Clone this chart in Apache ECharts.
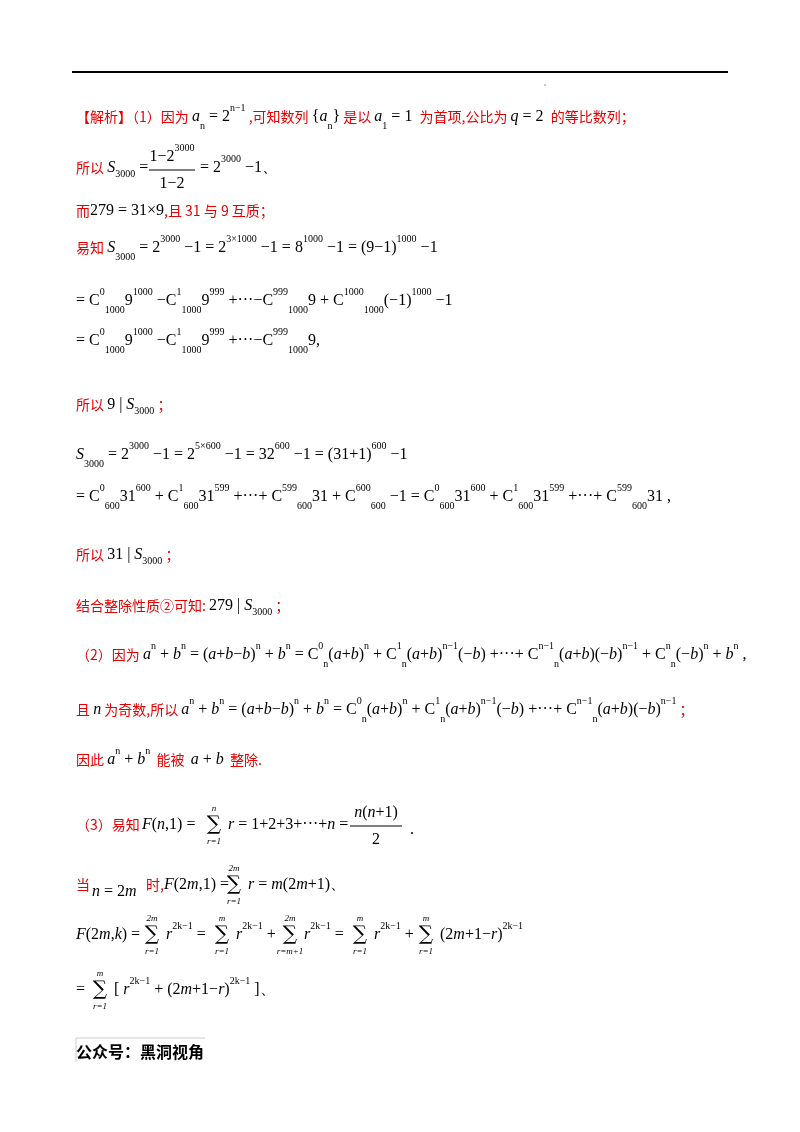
<!DOCTYPE html>
<html><head><meta charset="utf-8">
<script src="https://cdn.jsdelivr.net/npm/echarts@6/dist/echarts.min.js"></script>
<style>html,body{margin:0;padding:0;background:#fff}#c{width:800px;height:1132px}</style>
</head><body><div id="c"></div>
<script>
// Text content (rich markup): r=red CJK, k=black CJK, m=italic math, p=superscript, b=subscript
const lineTexts = [
 "{r|【解析】（1）因为 }{m|a}{b|n}{n| = 2}{p|n−1}{r| ,可知数列 }{n|{}{m|a}{b|n}{n|}}{r| 是以 }{m|a}{b|1}{n| = 1 }{r| 为首项,公比为 }{m|q}{n| = 2 }{r| 的等比数列；}",
 "{r|所以 }{m|S}{b|3000}{n| =}",
 "{n|= 2}{p|3000}{n| −1、}",
 "{r|而}{n|279 = 31×9}{r|,且 31 与 9 互质；}",
 "{r|易知 }{m|S}{b|3000}{n| = 2}{p|3000}{n| −1 = 2}{p|3×1000}{n| −1 = 8}{p|1000}{n| −1 = (9−1)}{p|1000}{n| −1}",
 "{n|= C}{p|0}{b|1000}{n|9}{p|1000}{n| −C}{p|1}{b|1000}{n|9}{p|999}{n| +···−C}{p|999}{b|1000}{n|9 + C}{p|1000}{b|1000}{n|(−1)}{p|1000}{n| −1}",
 "{n|= C}{p|0}{b|1000}{n|9}{p|1000}{n| −C}{p|1}{b|1000}{n|9}{p|999}{n| +···−C}{p|999}{b|1000}{n|9}{n|,}",
 "{r|所以 }{n|9 | }{m|S}{b|3000}{r| ；}",
 "{m|S}{b|3000}{n| = 2}{p|3000}{n| −1 = 2}{p|5×600}{n| −1 = 32}{p|600}{n| −1 = (31+1)}{p|600}{n| −1}",
 "{n|= C}{p|0}{b|600}{n|31}{p|600}{n| + C}{p|1}{b|600}{n|31}{p|599}{n| +···+ C}{p|599}{b|600}{n|31 + C}{p|600}{b|600}{n| −1 = C}{p|0}{b|600}{n|31}{p|600}{n| + C}{p|1}{b|600}{n|31}{p|599}{n| +···+ C}{p|599}{b|600}{n|31 ,}",
 "{r|所以 }{n|31 | }{m|S}{b|3000}{r| ；}",
 "{r|结合整除性质②可知: }{n|279 | }{m|S}{b|3000}{r| ；}",
 "{r|（2）因为 }{m|a}{p|n}{n| + }{m|b}{p|n}{n| = (}{m|a}{n|+}{m|b}{n|−}{m|b}{n|)}{p|n}{n| + }{m|b}{p|n}{n| = C}{p|0}{b|n}{n|(}{m|a}{n|+}{m|b}{n|)}{p|n}{n| + C}{p|1}{b|n}{n|(}{m|a}{n|+}{m|b}{n|)}{p|n−1}{n|(−}{m|b}{n|) +···+ C}{p|n−1}{b|n}{n|(}{m|a}{n|+}{m|b}{n|)(−}{m|b}{n|)}{p|n−1}{n| + C}{p|n}{b|n}{n|(−}{m|b}{n|)}{p|n}{n| + }{m|b}{p|n}{n| ,}",
 "{r|且 }{m|n}{r| 为奇数,所以 }{m|a}{p|n}{n| + }{m|b}{p|n}{n| = (}{m|a}{n|+}{m|b}{n|−}{m|b}{n|)}{p|n}{n| + }{m|b}{p|n}{n| = C}{p|0}{b|n}{n|(}{m|a}{n|+}{m|b}{n|)}{p|n}{n| + C}{p|1}{b|n}{n|(}{m|a}{n|+}{m|b}{n|)}{p|n−1}{n|(−}{m|b}{n|) +···+ C}{p|n−1}{b|n}{n|(}{m|a}{n|+}{m|b}{n|)(−}{m|b}{n|)}{p|n−1}{r| ；}",
 "{r|因此 }{m|a}{p|n}{n| + }{m|b}{p|n}{r|  能被  }{m|a}{n| + }{m|b}{r|  整除.}"
];
const lineX = [76,76,200,76,76,76,76,76,76,76,76,76,76,76,76];
const lineY = [117,168,168,211,248,301,341,405,455,497,555,606,655,710,760];

const fracs = [ // [numerator, denominator, x-center, y-bar, width]
 ["{n|1−2}{p|3000}","{n|1−2}",172,170,46],
 ["{m|n}{n|(}{m|n}{n|+1)}","{n|2}",376,826,52]
];
const sums = [ // [top, bottom, x, y]
 ["n","r=1",214,825],["2m","r=1",234,885],
 ["2m","r=1",152,935],["m","r=1",222,935],["2m","r=m+1",290,935],["m","r=1",360,935],["m","r=1",426,935],
 ["m","r=1",100,990]
];
const extraTexts = [
 ["{r|（3）易知}",76,825],["{m|F}{n|(}{m|n}{n|,1) =}",142,825],["{m|r}{n| = 1+2+3+···+}{m|n}{n| =}",228,825],["{n|.}",410,830],
 ["{r|当}",76,885],["{m|n}{n| = 2}{m|m}",92,892],["{r|时,}",146,885],["{m|F}{n|(2}{m|m}{n|,1) =}",164,885],["{m|r}{n| = }{m|m}{n|(2}{m|m}{n|+1)、}",248,885],
 ["{m|F}{n|(2}{m|m}{n|,}{m|k}{n|) =}",76,935],["{m|r}{p|2k−1}{n| =}",166,935],["{m|r}{p|2k−1}{n| +}",236,935],["{m|r}{p|2k−1}{n| =}",304,935],["{m|r}{p|2k−1}{n| +}",374,935],["{n|(2}{m|m}{n|+1−}{m|r}{n|)}{p|2k−1}",440,935],
 ["{n|=}",76,990],["{n|[ }{m|r}{p|2k−1}{n| + (2}{m|m}{n|+1−}{m|r}{n|)}{p|2k−1}{n| ]、}",114,990]
];

const rich = {
 r:{fill:'#e60000',fontFamily:'Noto Sans CJK SC',fontSize:14},
 k:{fill:'#000',fontFamily:'Noto Sans CJK SC',fontSize:14},
 m:{fill:'#000',fontFamily:'Liberation Serif',fontStyle:'italic',fontSize:16},
 n:{fill:'#000',fontFamily:'Liberation Serif',fontSize:16},
 p:{fill:'#000',fontFamily:'Liberation Serif',fontSize:10,verticalAlign:'top',lineHeight:28},
 b:{fill:'#000',fontFamily:'Liberation Serif',fontSize:10,verticalAlign:'bottom',lineHeight:22}
};
function T(t,x,y,align){return {type:'text',x:x,y:y,style:{text:t,rich:rich,fill:'#000',fontFamily:'Liberation Serif',fontSize:16,verticalAlign:'middle',align:align||'left'}};}
const g = [];
g.push({type:'line',shape:{x1:72,y1:72,x2:728,y2:72},style:{stroke:'#000',lineWidth:2}});
g.push({type:'circle',shape:{cx:545,cy:85,r:0.7},style:{fill:'#666'}});
lineTexts.forEach((t,i)=>g.push(T(t,lineX[i],lineY[i])));
fracs.forEach(f=>{
 g.push(T(f[0],f[2],f[3]-13,'center'));
 g.push(T(f[1],f[2],f[3]+14,'center'));
 g.push({type:'line',shape:{x1:f[2]-f[4]/2,y1:f[3],x2:f[2]+f[4]/2,y2:f[3]},style:{stroke:'#000',lineWidth:1}});
});
sums.forEach(s=>{
 g.push({type:'text',x:s[2],y:s[3],style:{text:'∑',fontFamily:'DejaVu Serif',fontSize:20,align:'center',verticalAlign:'middle',fill:'#000'}});
 g.push({type:'text',x:s[2],y:s[3]-16,style:{text:s[0],fontFamily:'Liberation Serif',fontStyle:'italic',fontSize:9,align:'center',verticalAlign:'middle',fill:'#000'}});
 g.push({type:'text',x:s[2],y:s[3]+17,style:{text:s[1],fontFamily:'Liberation Serif',fontStyle:'italic',fontSize:9,align:'center',verticalAlign:'middle',fill:'#000'}});
});
extraTexts.forEach(e=>g.push(T(e[0],e[1],e[2])));
g.push({type:'polyline',shape:{points:[[76,1062],[76,1038],[205,1038]]},style:{stroke:'#ccc',lineWidth:1,fill:null}});
g.push({type:'text',x:76,y:1052,style:{text:'公众号：黑洞视角',fontFamily:'Noto Sans CJK SC',fontSize:16,fontWeight:'bold',fill:'#000',verticalAlign:'middle'}});
const chart = echarts.init(document.getElementById('c'));
chart.setOption({backgroundColor:'#fff',graphic:g});
</script></body></html>
